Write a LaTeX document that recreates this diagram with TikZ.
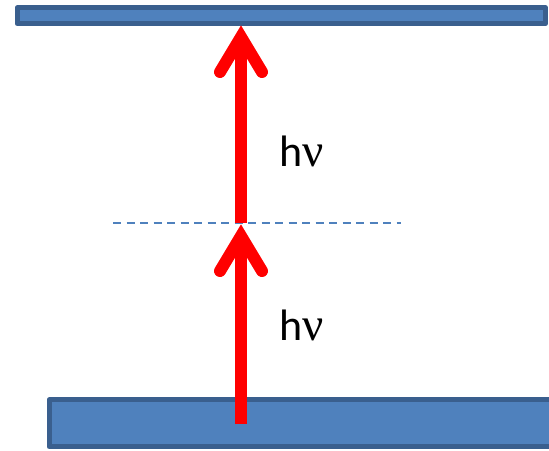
\documentclass[tikz,border=0pt]{standalone}
\usepackage{fontspec}
\setmainfont{Carlito}
\newfontfamily\greekfont{Liberation Serif}
\usetikzlibrary{calc}
\definecolor{barfill}{HTML}{4F81BD}
\definecolor{barline}{HTML}{3A5F8E}
\tikzset{
  level/.style={draw=barline, fill=barfill, line width=5pt, line join=round,
    rectangle, inner sep=0pt},
  shaft/.style={draw=red, line width=12pt, line cap=butt},
  headline/.style={draw=red, line width=12pt, line cap=round, line join=miter},
  virtual/.style={draw=barfill, line width=2pt, dash pattern=on 8pt off 5.5pt},
  photon/.style={font=\fontsize{44}{50}\selectfont, inner sep=0pt, anchor=base west}
}
\newcommand{\freq}{h{\greekfont\fontsize{47}{50}\selectfont ν}}
\begin{document}
\begin{tikzpicture}[x=1pt, y=-1pt]
  \useasboundingbox (0,0) rectangle (549,450);
  % energy levels
  \node[level, minimum width=528.3pt, minimum height=16pt] (upper) at (281.35,15.8) {};
  \node[level, minimum width=515.8pt, minimum height=47pt] (lower) at (307.1,423.3) {};
  % intermediate virtual level
  \coordinate (vl) at (113,223.3);
  \coordinate (vr) at (401,223.3);
  \draw[virtual] (vl) -- (vr);
  % transition points on the arrow axis
  \coordinate (start) at (241,424);
  \coordinate (mid) at (241,224);
  \coordinate (top) at (241,25);
  % first photon
  \draw[shaft] (start) -- ($(mid)+(0,12)$);
  \draw[headline] ($(mid)+(-21,47)$) -- ($(mid)+(0,12)$) -- ($(mid)+(21,47)$);
  % second photon
  \draw[shaft] ($(mid)+(0,-1)$) -- ($(top)+(0,12)$);
  \draw[headline] ($(top)+(-21,47)$) -- ($(top)+(0,12)$) -- ($(top)+(21,47)$);
  % photon energy labels
  \node[photon] (hv1) at (279,340.7) {\freq};
  \node[photon] (hv2) at (279,166.7) {\freq};
\end{tikzpicture}
\end{document}
